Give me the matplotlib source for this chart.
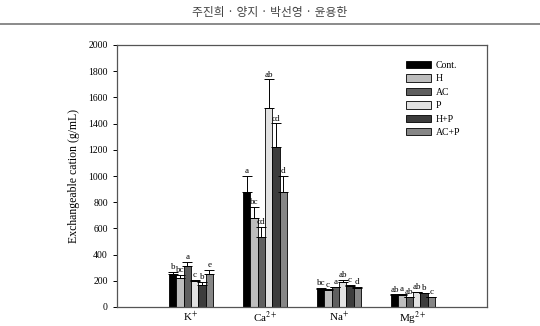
import matplotlib
matplotlib.use("Agg")
import matplotlib.pyplot as plt
import numpy as np

# ---------------------------------------------------------------------------
# Data
# ---------------------------------------------------------------------------
cations = ["K$^{+}$", "Ca$^{2+}$", "Na$^{+}$", "Mg$^{2+}$"]
treatments = ["Cont.", "H", "AC", "P", "H+P", "AC+P"]
colors = ["#000000", "#bdbdbd", "#5f5f5f", "#e2e2e2", "#3c3c3c", "#868686"]

# values per treatment, order: K, Ca, Na, Mg
cont = [255, 878, 137, 92]
h = [224, 682, 130, 94]
ac = [315, 534, 150, 74]
p = [198, 1517, 193, 112]
hp = [168, 1224, 163, 104]
acp = [252, 878, 147, 76]

cont_err = [15, 124, 6, 4]
h_err = [21, 81, 5, 4]
ac_err = [28, 76, 6, 5]
p_err = [8, 221, 13, 5]
hp_err = [22, 178, 7, 4]
acp_err = [30, 124, 6, 4]

letters = [
    ["b", "a", "bc", "ab"],
    ["bc", "bc", "c", "a"],
    ["a", "cd", "a", "ab"],
    ["c", "ab", "ab", "ab"],
    ["b", "cd", "c", "b"],
    ["e", "d", "d", "c"],
]

values = [cont, h, ac, p, hp, acp]
errors = [cont_err, h_err, ac_err, p_err, hp_err, acp_err]

plt.rcParams["font.family"] = ["Liberation Serif", "DejaVu Serif"]
plt.rcParams["mathtext.fontset"] = "stix"

fig = plt.figure(figsize=(5.4, 3.26), dpi=100)
ax = fig.add_axes([117 / 540, 19 / 326, 370 / 540, 262 / 326])

x = np.arange(len(cations))
width = 0.098
for i, (vals, errs, col, lab) in enumerate(zip(values, errors, colors, treatments)):
    pos = x + (i - 2.5) * width
    ax.bar(pos, vals, width, color=col, edgecolor="black", linewidth=0.6,
           label=lab, zorder=2)
    ax.errorbar(pos, vals, yerr=[np.zeros(len(vals)), errs], fmt="none",
                ecolor="black", elinewidth=0.7, capsize=3.5, capthick=0.7,
                zorder=3)
    for xp, v, e, t in zip(pos, vals, errs, letters[i]):
        ax.text(xp, v + e + 6, t, ha="center", va="bottom", fontsize=6.5)

ax.set_xlim(-1, 4)
ax.set_ylim(0, 2000)
ax.set_yticks(np.arange(0, 2001, 200))
ax.set_xticks(x)
ax.set_xticklabels(cations, fontsize=8)
ax.tick_params(axis="x", length=0, pad=2)
ax.tick_params(axis="y", labelsize=7, length=3, width=0.7, direction="out")
ax.set_ylabel("Exchangeable cation (g/mL)", fontsize=8.5, labelpad=6)
for s in ax.spines.values():
    s.set_color("#555555")
    s.set_linewidth(0.9)

ax.legend(loc="upper left", bbox_to_anchor=(0.77, 0.955), frameon=False,
          fontsize=7, handlelength=2.6, handleheight=0.8, labelspacing=0.45,
          handletextpad=0.5, borderaxespad=0)

# page header
fig.text(0.5, 0.962, "주진희 · 양지 · 박선영 · 윤용한", ha="center", va="center",
         fontsize=8.5, color="#444444", family=["Noto Sans CJK KR", "DejaVu Sans"])
fig.add_artist(plt.Line2D([0, 1], [0.926, 0.926], color="#777777", linewidth=1.2,
                          transform=fig.transFigure))

fig.savefig("out.png", dpi=100)
